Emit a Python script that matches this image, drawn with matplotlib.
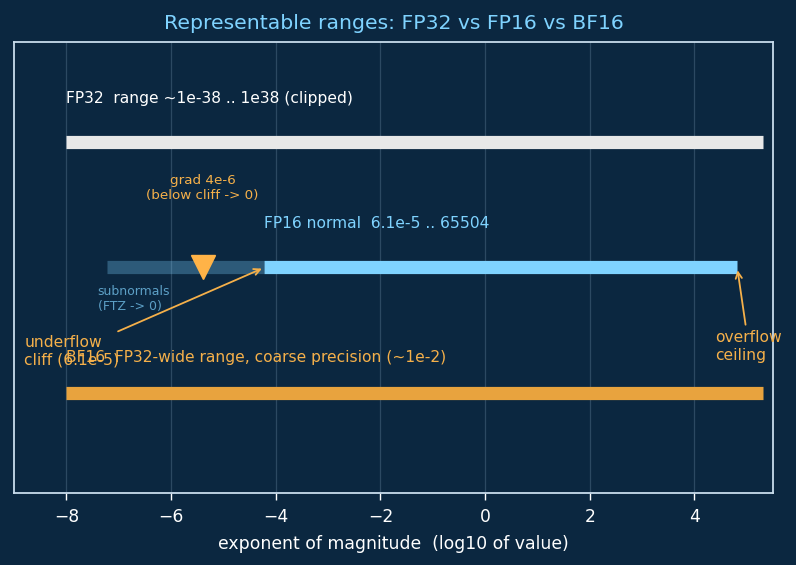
import matplotlib
matplotlib.use("Agg")
import matplotlib.pyplot as plt
import numpy as np

BG = "#0b2740"
ORANGE = "#f5b04a"
BLUE = "#7fd3ff"

# data (log10 of magnitudes)
formats = ["FP32", "FP16", "BF16"]
rows = [2, 1, 0]
fp32_range = (-8.0, 5.3)          # clipped display range
fp16_normal = (np.log10(6.1e-5), np.log10(65504))
fp16_subnormal = (np.log10(5.96e-8), np.log10(6.1e-5))
bf16_range = (-8.0, 5.3)
grad_value = 4e-6
labels = ["FP32  range ~1e-38 .. 1e38 (clipped)",
          "FP16 normal  6.1e-5 .. 65504",
          "BF16  FP32-wide range, coarse precision (~1e-2)"]

fig = plt.figure(figsize=(7.96, 5.65), dpi=100, facecolor=BG)
ax = fig.add_axes([0.0176, 0.1274, 0.9535, 0.7983], facecolor=BG)

LW = 9.5
ax.hlines(rows[0], *fp32_range, color="#e8e8e8", lw=LW)
ax.hlines(rows[1], *fp16_subnormal, color=BLUE, lw=LW, alpha=0.3)
ax.hlines(rows[1], *fp16_normal, color=BLUE, lw=LW)
ax.hlines(rows[2], *bf16_range, color="#e8a33e", lw=LW)

ax.text(fp32_range[0], rows[0] + 0.29, labels[0], color="white", fontsize=11.2, va="bottom")
ax.text(fp16_normal[0], rows[1] + 0.29, labels[1], color=BLUE, fontsize=11.2, va="bottom")
ax.text(bf16_range[0], rows[2] + 0.22, labels[2], color=ORANGE, fontsize=11.2, va="bottom")

ax.text(-7.4, rows[1] - 0.14, "subnormals\n(FTZ -> 0)", color=BLUE, alpha=0.7,
        fontsize=9, va="top", ha="left")

gx = np.log10(grad_value)
ax.plot([gx], [rows[1]], marker="v", color="#ffb347", markersize=17, ls="none")
ax.text(gx, rows[1] + 0.635, "grad 4e-6\n(below cliff -> 0)", color=ORANGE,
        fontsize=9.7, ha="center", va="center")

ax.annotate("underflow\ncliff (6.1e-5)", xy=(fp16_normal[0], rows[1]),
            xytext=(-8.8, 0.33), color=ORANGE, fontsize=11.2, ha="left", va="center",
            arrowprops=dict(arrowstyle="->", color=ORANGE, lw=1.3))
ax.annotate("overflow\nceiling", xy=(fp16_normal[1], rows[1]),
            xytext=(4.4, 0.37), color=ORANGE, fontsize=11.2, ha="left", va="center",
            arrowprops=dict(arrowstyle="->", color=ORANGE, lw=1.3))

ax.set_xlim(-9, 5.5)
ax.set_ylim(-0.8, 2.8)
ax.set_yticks([])
ax.set_xticks([-8, -6, -4, -2, 0, 2, 4])
ax.grid(axis="x", color="#6a8aa4", alpha=0.35, lw=0.9)
ax.set_axisbelow(True)
ax.tick_params(axis="x", colors="white", labelsize=12.3, length=5, width=1.0, pad=6)
for s in ax.spines.values():
    s.set_color("#c8dcec")
    s.set_linewidth(1.3)
ax.set_xlabel("exponent of magnitude  (log10 of value)", color="white", fontsize=12.4,
              labelpad=6)
ax.set_title("Representable ranges: FP32 vs FP16 vs BF16", color=BLUE, fontsize=14.7, pad=9)

fig.savefig("out.png", dpi=100, facecolor=BG)
